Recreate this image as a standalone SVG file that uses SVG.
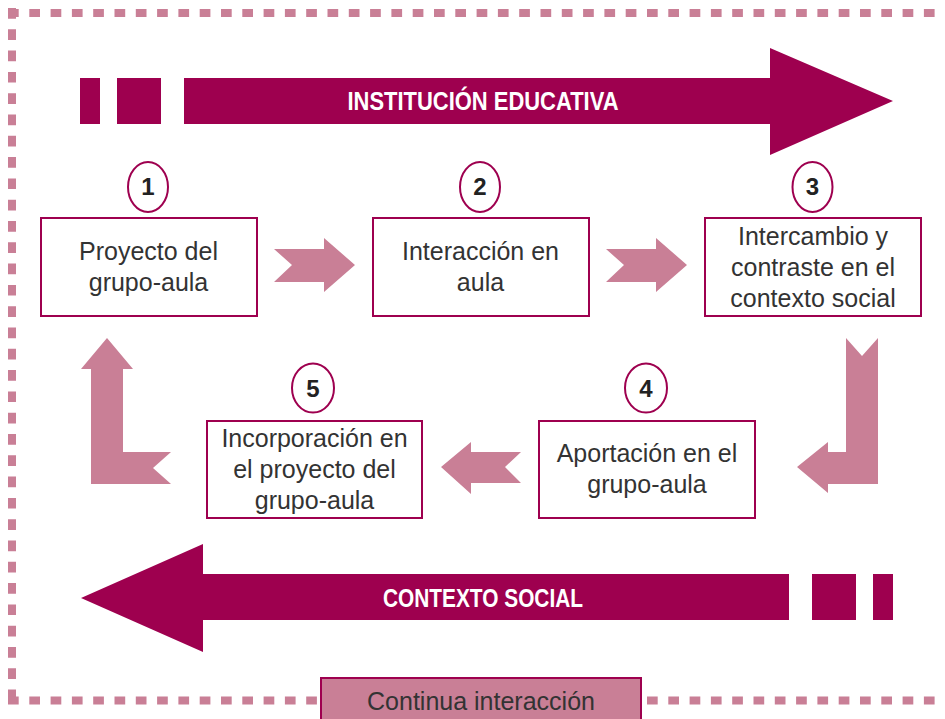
<svg xmlns="http://www.w3.org/2000/svg" width="945" height="719" viewBox="0 0 945 719">
<style>
.border{fill:none;stroke:#C97F96;stroke-width:8;stroke-dasharray:10.7 10.6}
.dark{fill:#9E004F}
.light{fill:#C97F96}
.box{fill:#fff;stroke:#9E004F;stroke-width:2}
.num{fill:#fff;stroke:#9E004F;stroke-width:2}
.t{font-family:"Liberation Sans",Arial,sans-serif;font-size:25px;fill:#333;text-anchor:middle}
.n{font-family:"Liberation Sans",Arial,sans-serif;font-size:24px;font-weight:bold;fill:#222;text-anchor:middle}
.h{font-family:"Liberation Sans",Arial,sans-serif;font-size:25px;font-weight:bold;fill:#fff;text-anchor:middle}
</style>
<rect width="945" height="719" fill="#fff"/>
<g id="border">
<path class="border" d="M8 13H945"/>
<path class="border" d="M12 8V704"/>
<path class="border" d="M8 700.5H945"/>
</g>
<g id="institucion">
<rect class="dark" x="80" y="78" width="20" height="46"/>
<rect class="dark" x="117" y="78" width="44" height="46"/>
<polygon class="dark" points="184,78 770,78 770,48 893,101 770,155 770,124 184,124"/>
<text class="h" x="483" y="110" textLength="271" lengthAdjust="spacingAndGlyphs">INSTITUCIÓN EDUCATIVA</text>
</g>
<g id="contexto">
<rect class="dark" x="812" y="574" width="44" height="46"/>
<rect class="dark" x="873" y="574" width="20" height="46"/>
<polygon class="dark" points="789,574 203,574 203,544 81,598 203,652 203,620 789,620"/>
<text class="h" x="483" y="607" textLength="200" lengthAdjust="spacingAndGlyphs">CONTEXTO SOCIAL</text>
</g>
<g id="connectors">
<polygon class="light" points="274,249 324,249 324,238 355,265 324,292 324,282 274,282 292,265"/>
<polygon class="light" points="606,249 656,249 656,238 687,265 656,292 656,282 606,282 624,265"/>
<polygon class="light" points="846,338 862,356 878,338 878,484 828,484 828,493 797,467 828,442 828,452 846,452"/>
<polygon class="light" points="521,452 471,452 471,442 441,467 471,494 471,483 521,483 505,467"/>
<polygon class="light" points="171,452 123,452 123,369 133,369 107,338 81,369 91,369 91,484 171,484 153,468"/>
</g>
<g id="node1">
<rect class="box" x="41" y="218" width="216" height="98"/>
<ellipse class="num" cx="148" cy="187" rx="20" ry="25"/>
<text class="n" x="148" y="195">1</text>
<text class="t" x="148.5" y="260">Proyecto del</text>
<text class="t" x="148.5" y="291">grupo-aula</text>
</g>
<g id="node2">
<rect class="box" x="373" y="218" width="216" height="98"/>
<ellipse class="num" cx="480" cy="187" rx="20" ry="25"/>
<text class="n" x="480" y="195">2</text>
<text class="t" x="480.5" y="260">Interacción en</text>
<text class="t" x="480.5" y="291">aula</text>
</g>
<g id="node3">
<rect class="box" x="705" y="218" width="216" height="98"/>
<ellipse class="num" cx="812.5" cy="187" rx="20" ry="25"/>
<text class="n" x="812.5" y="195">3</text>
<text class="t" x="813" y="245">Intercambio y</text>
<text class="t" x="813" y="276">contraste en el</text>
<text class="t" x="813" y="307">contexto social</text>
</g>
<g id="node4">
<rect class="box" x="539" y="421" width="216" height="97"/>
<ellipse class="num" cx="646" cy="388" rx="21" ry="24.5"/>
<text class="n" x="646" y="397">4</text>
<text class="t" x="647" y="462">Aportación en el</text>
<text class="t" x="647" y="493">grupo-aula</text>
</g>
<g id="node5">
<rect class="box" x="207" y="421" width="215" height="97"/>
<ellipse class="num" cx="313" cy="388" rx="21" ry="24.5"/>
<text class="n" x="313" y="397">5</text>
<text class="t" x="314.5" y="447">Incorporación en</text>
<text class="t" x="314.5" y="478">el proyecto del</text>
<text class="t" x="314.5" y="509">grupo-aula</text>
</g>
<g id="continua">
<rect x="321" y="678" width="320" height="50" fill="#C97F96" stroke="#9E004F" stroke-width="2"/>
<text class="t" x="481" y="710">Continua interacción</text>
</g>
</svg>
